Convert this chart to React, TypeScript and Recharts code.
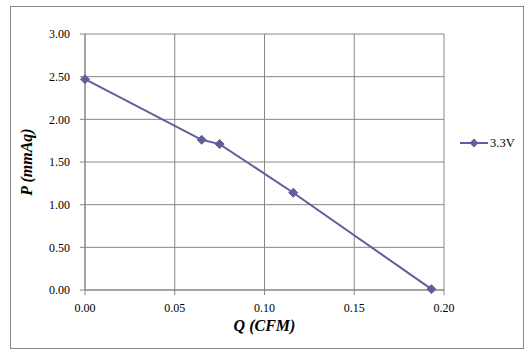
import React from 'react';
import { LineChart, Line, XAxis, YAxis, CartesianGrid, Legend, Label } from 'recharts';

const flowCfm = [0.0, 0.065, 0.075, 0.116, 0.193];
const pressureMmAq = [2.47, 1.76, 1.71, 1.14, 0.01];
const xTicks = [0, 0.05, 0.1, 0.15, 0.2];
const yTicks = [0, 0.5, 1, 1.5, 2, 2.5, 3];
const seriesName = '3.3V';

const data = flowCfm.map((q, i) => ({ q, p: pressureMmAq[i] }));

const LINE_COLOR = '#5f5f9c';
const GRID_COLOR = '#868686';
const FONT = '"Liberation Serif", "Times New Roman", serif';

const Diamond = (props: any) => {
    const { cx, cy } = props;
    if (cx == null || cy == null) return null;
    const r = 4.5;
    return (
        <path
            d={`M${cx},${cy - r}L${cx + r},${cy}L${cx},${cy + r}L${cx - r},${cy}Z`}
            fill={LINE_COLOR}
            stroke={LINE_COLOR}
        />
    );
};

const LegendBox = () => (
    <div style={{ width: 70, height: 20, display: 'flex', alignItems: 'center', fontFamily: FONT, fontSize: 12.5, color: '#000' }}>
        <svg width={32} height={12}>
            <line x1={2} y1={6} x2={30} y2={6} stroke={LINE_COLOR} strokeWidth={2} />
            <path d="M16,1.5L20.5,6L16,10.5L11.5,6Z" fill={LINE_COLOR} />
        </svg>
        <span>{seriesName}</span>
    </div>
);

export default function App() {
    const tickStyle = { fontFamily: FONT, fontSize: 12, fill: '#000' };
    const titleStyle = { fontFamily: FONT, fontSize: 16, fontWeight: 'bold', fontStyle: 'italic', fill: '#000' };
    return (
        <div style={{ position: 'absolute', left: 0, top: 0, width: 530, height: 355, background: '#fff' }}>
            <div style={{ position: 'absolute', left: 10, top: 6, width: 512, height: 341, border: `1px solid ${GRID_COLOR}` }} />
            <LineChart width={530} height={355} data={data} margin={{ top: 34, right: 16, bottom: 35, left: 0 }}>
                <CartesianGrid stroke={GRID_COLOR} strokeWidth={1} />
                <XAxis
                    dataKey="q"
                    type="number"
                    domain={[0, 0.2]}
                    ticks={xTicks}
                    tickFormatter={(v: number) => v.toFixed(2)}
                    tick={tickStyle}
                    tickSize={5}
                    tickMargin={8}
                    height={30}
                    stroke={GRID_COLOR}
                    tickLine={{ stroke: GRID_COLOR }}
                >
                    <Label value="Q (CFM)" position="insideBottom" offset={-11} style={titleStyle} />
                </XAxis>
                <YAxis
                    type="number"
                    domain={[0, 3]}
                    ticks={yTicks}
                    tickFormatter={(v: number) => v.toFixed(2)}
                    tick={tickStyle}
                    tickSize={5}
                    tickMargin={10}
                    width={85}
                    stroke={GRID_COLOR}
                    tickLine={{ stroke: GRID_COLOR }}
                >
                    <Label
                        value="P (mmAq)"
                        angle={-90}
                        position="insideLeft"
                        offset={26}
                        style={{ ...titleStyle, textAnchor: 'middle' }}
                    />
                </YAxis>
                <Legend
                    layout="vertical"
                    align="right"
                    verticalAlign="middle"
                    content={() => <LegendBox />}
                    wrapperStyle={{ top: 133, right: 'auto', left: 458 }}
                />
                <Line
                    type="linear"
                    dataKey="p"
                    name={seriesName}
                    stroke={LINE_COLOR}
                    strokeWidth={2}
                    dot={<Diamond />}
                    activeDot={false}
                    isAnimationActive={false}
                />
            </LineChart>
        </div>
    );
}
